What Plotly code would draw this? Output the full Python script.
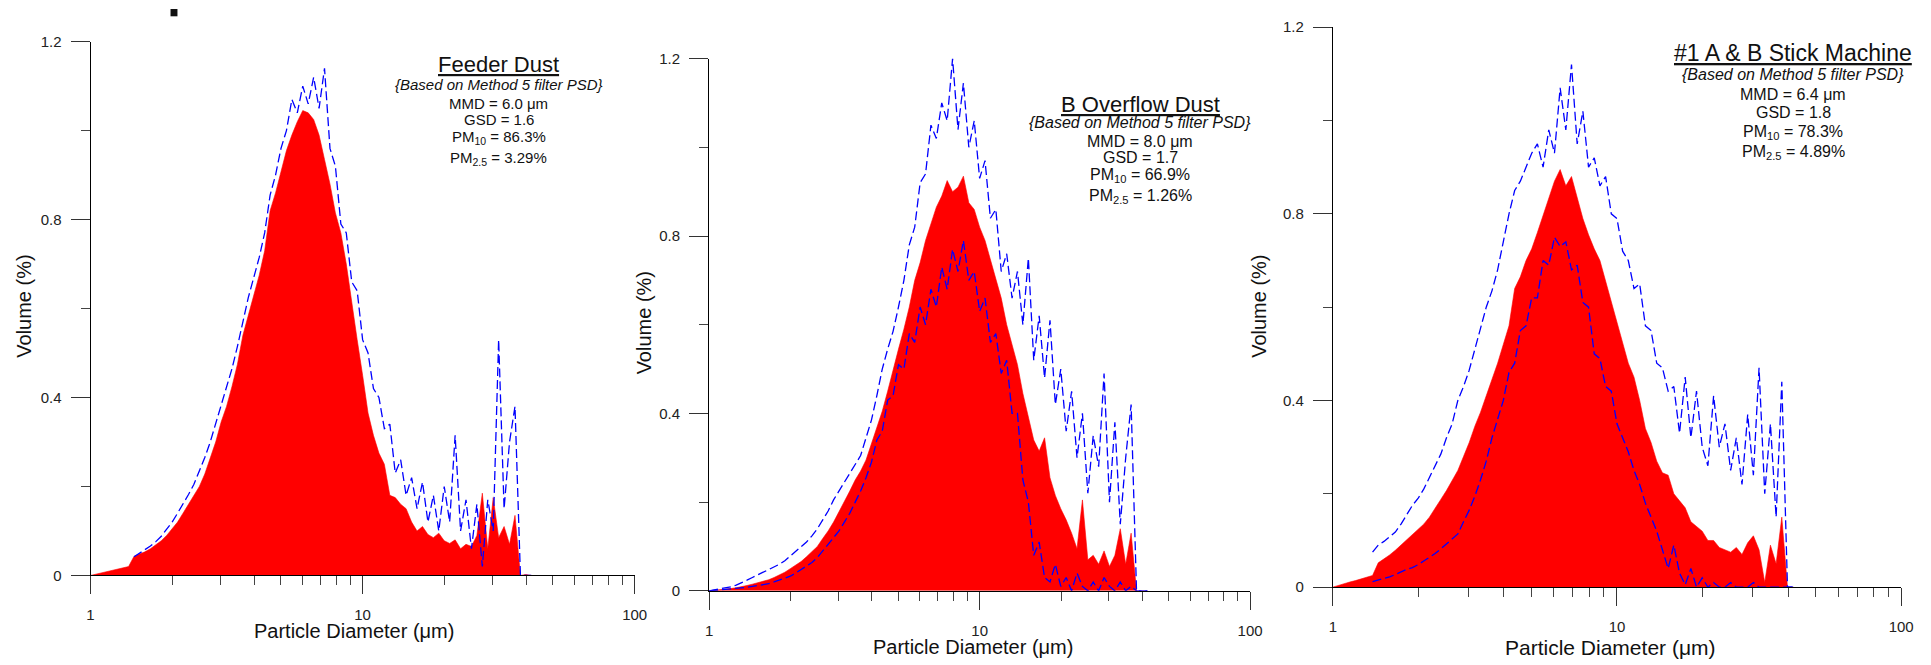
import plotly.graph_objects as go

W, H = 1931, 665
FONT = "Liberation Sans, Arial, sans-serif"

# ---------------- data ----------------
DIAM = [1.000, 1.047, 1.096, 1.148, 1.202, 1.259, 1.318, 1.380, 1.445, 1.514,
        1.585, 1.660, 1.738, 1.820, 1.905, 1.995, 2.089, 2.188, 2.291, 2.399,
        2.512, 2.630, 2.754, 2.884, 3.020, 3.162, 3.311, 3.467, 3.631, 3.802,
        3.981, 4.169, 4.365, 4.571, 4.786, 5.012, 5.248, 5.495, 5.754, 6.026,
        6.310, 6.607, 6.918, 7.244, 7.586, 7.943, 8.318, 8.710, 9.120, 9.550,
        10.00, 10.47, 10.96, 11.48, 12.02, 12.59, 13.18, 13.80, 14.45, 15.14,
        15.85, 16.60, 17.38, 18.20, 19.05, 19.95, 20.89, 21.88, 22.91, 23.99,
        25.12, 26.30, 27.54, 28.84, 30.20, 31.62, 33.11, 34.67, 36.31, 38.02,
        39.81, 41.69]

# Feeder Dust
P1_RED = [0.000, 0.003, 0.006, 0.009, 0.011, 0.014, 0.017, 0.020, 0.043, 0.048,
          0.053, 0.060, 0.068, 0.078, 0.090, 0.105, 0.120, 0.140, 0.160, 0.180,
          0.200, 0.228, 0.262, 0.300, 0.345, 0.380, 0.425, 0.475, 0.540, 0.585,
          0.630, 0.675, 0.730, 0.820, 0.860, 0.910, 0.955, 0.990, 1.020, 1.045,
          1.040, 1.025, 0.990, 0.935, 0.880, 0.815, 0.770, 0.700, 0.610, 0.530,
          0.450, 0.365, 0.315, 0.275, 0.250, 0.180, 0.175, 0.160, 0.150, 0.120,
          0.100, 0.110, 0.092, 0.085, 0.095, 0.078, 0.072, 0.080, 0.060, 0.070,
          0.065, 0.090, 0.185, 0.060, 0.175, 0.085, 0.110, 0.070, 0.135, 0.000,
          0.002, 0.000]
P1_UP = [None, None, None, None, None, None, None, None, 0.042, 0.050,
         0.057, 0.066, 0.076, 0.088, 0.104, 0.120, 0.140, 0.160, 0.182, 0.205,
         0.235, 0.265, 0.300, 0.340, 0.385, 0.420, 0.465, 0.515, 0.570, 0.625,
         0.670, 0.715, 0.770, 0.855, 0.900, 0.960, 1.000, 1.070, 1.040, 1.100,
         1.060, 1.120, 1.050, 1.140, 0.960, 0.920, 0.790, 0.770, 0.660, 0.640,
         0.530, 0.500, 0.420, 0.400, 0.330, 0.340, 0.230, 0.260, 0.180, 0.220,
         0.150, 0.210, 0.120, 0.180, 0.100, 0.200, 0.120, 0.315, 0.100, 0.170,
         0.060, 0.160, 0.020, 0.170, 0.100, 0.530, 0.150, 0.300, 0.380, 0.000,
         0.000, 0.000]

# B Overflow Dust
P2_RED = [0.000, 0.001, 0.002, 0.003, 0.005, 0.007, 0.009, 0.012, 0.015, 0.018,
          0.021, 0.025, 0.030, 0.036, 0.042, 0.050, 0.058, 0.066, 0.077, 0.088,
          0.100, 0.118, 0.135, 0.155, 0.178, 0.200, 0.225, 0.250, 0.270, 0.295,
          0.330, 0.365, 0.405, 0.450, 0.500, 0.545, 0.590, 0.640, 0.700, 0.740,
          0.790, 0.830, 0.865, 0.890, 0.925, 0.900, 0.910, 0.935, 0.875, 0.860,
          0.820, 0.790, 0.745, 0.705, 0.660, 0.600, 0.555, 0.510, 0.445, 0.390,
          0.340, 0.315, 0.345, 0.255, 0.215, 0.185, 0.160, 0.130, 0.095, 0.205,
          0.070, 0.080, 0.060, 0.090, 0.055, 0.080, 0.140, 0.060, 0.130, 0.000,
          0.000, 0.000]
P2_UP = [0.000, 0.002, 0.004, 0.006, 0.009, 0.013, 0.018, 0.024, 0.030, 0.036,
         0.042, 0.048, 0.053, 0.060, 0.068, 0.078, 0.088, 0.098, 0.110, 0.124,
         0.140, 0.160, 0.180, 0.205, 0.225, 0.245, 0.265, 0.285, 0.305, 0.345,
         0.385, 0.440, 0.500, 0.545, 0.585, 0.640, 0.700, 0.780, 0.820, 0.920,
         0.940, 1.050, 1.020, 1.100, 1.060, 1.200, 1.040, 1.145, 1.000, 1.060,
         0.930, 0.970, 0.840, 0.860, 0.720, 0.760, 0.660, 0.720, 0.600, 0.750,
         0.520, 0.620, 0.480, 0.610, 0.420, 0.500, 0.360, 0.450, 0.300, 0.400,
         0.220, 0.350, 0.280, 0.490, 0.200, 0.380, 0.150, 0.300, 0.420, 0.000,
         0.000, 0.000]
P2_LO = [0.000, 0.001, 0.002, 0.003, 0.004, 0.005, 0.006, 0.008, 0.010, 0.012,
         0.014, 0.016, 0.020, 0.024, 0.028, 0.033, 0.040, 0.048, 0.056, 0.064,
         0.075, 0.090, 0.105, 0.120, 0.135, 0.155, 0.175, 0.200, 0.225, 0.255,
         0.290, 0.340, 0.360, 0.430, 0.440, 0.510, 0.500, 0.580, 0.560, 0.640,
         0.600, 0.680, 0.640, 0.730, 0.680, 0.770, 0.720, 0.790, 0.700, 0.720,
         0.630, 0.660, 0.560, 0.580, 0.490, 0.520, 0.400, 0.400, 0.250, 0.200,
         0.080, 0.110, 0.030, 0.020, 0.060, 0.010, 0.030, 0.000, 0.040, 0.010,
         0.000, 0.020, 0.000, 0.030, 0.010, 0.000, 0.020, 0.000, 0.010, 0.000,
         0.000, 0.000]

# #1 A & B Stick Machine
P3_RED = [0.000, 0.004, 0.007, 0.011, 0.014, 0.018, 0.021, 0.025, 0.052, 0.060,
          0.069, 0.079, 0.090, 0.101, 0.112, 0.122, 0.135, 0.150, 0.168, 0.188,
          0.207, 0.227, 0.250, 0.280, 0.310, 0.345, 0.375, 0.410, 0.445, 0.480,
          0.520, 0.560, 0.640, 0.665, 0.700, 0.725, 0.760, 0.795, 0.830, 0.870,
          0.895, 0.860, 0.880, 0.835, 0.790, 0.755, 0.725, 0.700, 0.655, 0.610,
          0.570, 0.525, 0.480, 0.450, 0.400, 0.340, 0.310, 0.270, 0.245, 0.240,
          0.200, 0.185, 0.170, 0.140, 0.130, 0.120, 0.100, 0.100, 0.085, 0.080,
          0.075, 0.085, 0.070, 0.095, 0.110, 0.080, 0.010, 0.090, 0.050, 0.150,
          0.000, 0.000]
P3_UP = [None, None, None, None, None, None, None, 0.075, 0.090, 0.098,
         0.108, 0.118, 0.135, 0.155, 0.175, 0.190, 0.210, 0.235, 0.260, 0.285,
         0.320, 0.350, 0.400, 0.430, 0.465, 0.510, 0.555, 0.600, 0.635, 0.680,
         0.740, 0.800, 0.850, 0.870, 0.900, 0.930, 0.950, 0.900, 0.980, 0.930,
         1.070, 0.980, 1.120, 0.950, 1.020, 0.900, 0.920, 0.860, 0.880, 0.800,
         0.790, 0.720, 0.700, 0.640, 0.650, 0.560, 0.550, 0.480, 0.470, 0.420,
         0.430, 0.330, 0.450, 0.320, 0.420, 0.300, 0.260, 0.410, 0.300, 0.350,
         0.250, 0.320, 0.220, 0.370, 0.240, 0.470, 0.200, 0.350, 0.150, 0.440,
         0.000, 0.000]
P3_LO = [None, None, None, None, None, None, None, 0.012, 0.015, 0.018,
         0.022, 0.027, 0.033, 0.038, 0.042, 0.048, 0.056, 0.064, 0.072, 0.082,
         0.092, 0.104, 0.114, 0.140, 0.165, 0.195, 0.230, 0.270, 0.320, 0.360,
         0.400, 0.460, 0.480, 0.550, 0.560, 0.620, 0.620, 0.700, 0.690, 0.750,
         0.730, 0.740, 0.680, 0.690, 0.610, 0.600, 0.500, 0.490, 0.430, 0.420,
         0.350, 0.320, 0.290, 0.250, 0.220, 0.180, 0.150, 0.120, 0.080, 0.040,
         0.090, 0.030, 0.005, 0.040, 0.000, 0.020, 0.000, 0.010, 0.000, 0.000,
         0.010, 0.000, 0.000, 0.000, 0.010, 0.000, 0.000, 0.000, 0.000, 0.000,
         0.000, 0.000]

PANEL_TITLES = ["Feeder Dust", "B Overflow Dust", "#1 A & B Stick Machine"]
SUBTITLE = "{Based on Method 5 filter PSD}"
MMD = ["6.0", "8.0", "6.4"]
GSD = ["1.6", "1.7", "1.8"]
PM10 = ["86.3%", "66.9%", "78.3%"]
PM25 = ["3.29%", "1.26%", "4.89%"]

X_TICKS = [1, 10, 100]
X_TICK_TEXT = ["1", "10", "100"]
X_MINOR = [2, 3, 4, 5, 6, 7, 8, 9, 20, 30, 40, 50, 60, 70, 80, 90]
Y_TICKS = [0, 0.4, 0.8, 1.2]
Y_TICK_TEXT = ["0", "0.4", "0.8", "1.2"]
Y_MINOR = [0.2, 0.6, 1.0]
X_TITLE = "Particle Diameter (\u03bcm)"
Y_TITLE = "Volume (%)"

# ---------------- geometry (pixels) ----------------
PANELS = [
    dict(x0=87.3, x1=636.3, y0=581.3, y1=33.5),
    dict(x0=711.4, x1=1257.2, y0=597.1, y1=50.9),
    dict(x0=1340.6, x1=1914.0, y0=593.3, y1=18.7),
]
TEXT_POS = [
    dict(cx=499, base=[65, 82.7, 102.3, 119, 135.7, 156.7], ts=22, bs=15),
    dict(cx=1146.5, base=[105.5, 122, 141.7, 158.3, 175, 196.7], ts=22, bs=16),
    dict(cx=1805, base=[53, 73, 93, 111.5, 130.5, 151.5], ts=23, bs=16),
]
AXIS_TITLE_POS = [
    dict(xt=(353.5, 638.5), yt=(20.4, 305.3), xs=20),
    dict(xt=(978, 655), yt=(646, 322.3), xs=20),
    dict(xt=(1620, 655), yt=(1266.5, 305.3), xs=21),
]


def px(xp):
    return xp / W


def py(yp):
    return 1 - yp / H


fig = go.Figure()

series = [(P1_RED, P1_UP, None), (P2_RED, P2_UP, P2_LO), (P3_RED, P3_UP, P3_LO)]
for i, (red, up, lo) in enumerate(series):
    xa = "x" if i == 0 else f"x{i+1}"
    ya = "y" if i == 0 else f"y{i+1}"
    fig.add_trace(go.Scatter(x=DIAM, y=red, mode="lines", fill="tozeroy",
                             fillcolor="#FF0000", line=dict(color="#FF0000", width=0.6),
                             xaxis=xa, yaxis=ya, showlegend=False, hoverinfo="skip"))
    for s in (up, lo):
        if s is None:
            continue
        fig.add_trace(go.Scatter(x=DIAM, y=s, mode="lines", connectgaps=False,
                                 line=dict(color="#0000FF", width=1.3, dash="9px,4px"),
                                 xaxis=xa, yaxis=ya, showlegend=False, hoverinfo="skip"))

layout = dict(width=W, height=H, margin=dict(l=0, r=0, t=0, b=0),
              paper_bgcolor="white", plot_bgcolor="white", showlegend=False,
              font=dict(family=FONT, color="#111"))
tickfont = dict(family=FONT, size=15, color="#222")
for i, p in enumerate(PANELS):
    sfx = "" if i == 0 else str(i + 1)
    layout[f"xaxis{sfx}"] = dict(
        domain=[px(p["x0"]), px(p["x1"])], anchor=f"y{sfx}", type="log", range=[0, 2],
        tickmode="array", tickvals=X_TICKS, ticktext=X_TICK_TEXT,
        ticks="outside", ticklen=18, tickwidth=1, tickcolor="#333",
        showline=True, linecolor="#000", linewidth=1, showgrid=False, zeroline=False,
        tickfont=tickfont, ticklabelstandoff=8, fixedrange=True,
        minor=dict(tickmode="array", tickvals=X_MINOR, ticks="outside", ticklen=9,
                   tickwidth=1, tickcolor="#444", showgrid=False))
    layout[f"yaxis{sfx}"] = dict(
        domain=[py(p["y0"]), py(p["y1"])], anchor=f"x{sfx}", range=[0, 1.2],
        tickmode="array", tickvals=Y_TICKS, ticktext=Y_TICK_TEXT,
        ticks="outside", ticklen=19, tickwidth=1, tickcolor="#333",
        showline=True, linecolor="#000", linewidth=1, showgrid=False, zeroline=False,
        tickfont=tickfont, ticklabelstandoff=6, fixedrange=True,
        minor=dict(tickmode="array", tickvals=Y_MINOR, ticks="outside", ticklen=9,
                   tickwidth=1, tickcolor="#444", showgrid=False))
fig.update_layout(**layout)


def add_text(txt, xpx, ypx, size, angle=0):
    fig.add_annotation(text=txt, x=px(xpx), y=py(ypx), xref="paper", yref="paper",
                       showarrow=False, xanchor="center", yanchor="middle", textangle=angle,
                       font=dict(family=FONT, size=size, color="#111"))


for i, tp in enumerate(TEXT_POS):
    cx, b, ts, bs = tp["cx"], tp["base"], tp["ts"], tp["bs"]
    add_text(f"<u>{PANEL_TITLES[i]}</u>", cx, b[0] - 0.35 * ts, ts)
    add_text(f"<i>{SUBTITLE}</i>", cx, b[1] - 0.35 * bs, bs)
    add_text(f"MMD = {MMD[i]} \u03bcm", cx, b[2] - 0.35 * bs, bs)
    add_text(f"GSD = {GSD[i]}", cx, b[3] - 0.35 * bs, bs)
    add_text(f"PM<sub>10</sub> = {PM10[i]}", cx, b[4] - 0.25 * bs, bs)
    add_text(f"PM<sub>2.5</sub> = {PM25[i]}", cx, b[5] - 0.25 * bs, bs)

for i, ap in enumerate(AXIS_TITLE_POS):
    add_text(X_TITLE, ap["xt"][0], ap["xt"][1], ap["xs"])
    add_text(Y_TITLE, ap["yt"][0], ap["yt"][1], 20, angle=-90)

# small dark fragment at the top edge of the original image
fig.add_shape(type="rect", xref="paper", yref="paper",
              x0=px(168), x1=px(175), y0=py(7.5), y1=1.0,
              fillcolor="#111", line=dict(width=0))

fig.write_html("out.html", config={"displayModeBar": False})
